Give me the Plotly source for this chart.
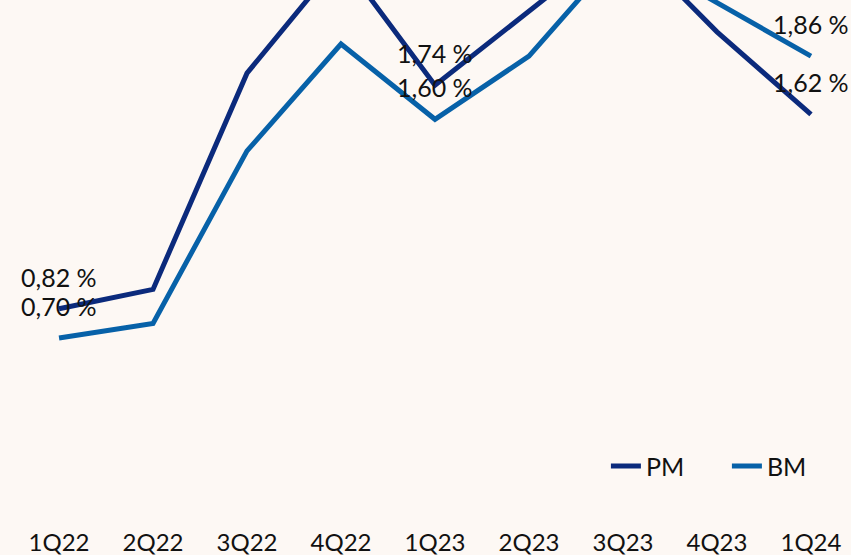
import plotly.graph_objects as go

quarters = ["1Q22", "2Q22", "3Q22", "4Q22", "1Q23", "2Q23", "3Q23", "4Q23", "1Q24"]
pm_values = [0.82, 0.90, 1.79, 2.26, 1.74, 2.05, 2.35, 1.96, 1.62]
bm_values = [0.70, 0.76, 1.47, 1.91, 1.60, 1.86, 2.30, 2.08, 1.86]
labelled = [0, 4, 8]

PM_COLOR = "#0b2a7c"
BM_COLOR = "#0761a8"
BG = "#fdf8f4"
FONT = "Lato, 'Noto Sans', sans-serif"

fig = go.Figure()
fig.add_trace(go.Scatter(x=quarters, y=pm_values, name="PM", mode="lines",
                         line=dict(color=PM_COLOR, width=5)))
fig.add_trace(go.Scatter(x=quarters, y=bm_values, name="BM", mode="lines",
                         line=dict(color=BM_COLOR, width=5)))

annotations = []
for series in (pm_values, bm_values):
    for i in labelled:
        annotations.append(dict(
            x=quarters[i], y=series[i],
            text=f"{series[i]:.2f} %".replace(".", ","),
            showarrow=False, yshift=32,
            font=dict(size=25, color="#111111", family=FONT),
        ))

fig.update_layout(
    width=851, height=555,
    margin=dict(l=0, r=0, t=0, b=45),
    paper_bgcolor=BG, plot_bgcolor=BG,
    font=dict(family=FONT, size=24, color="#111111"),
    showlegend=True,
    legend=dict(orientation="h", x=0.712, xanchor="left", y=0.086, yanchor="middle",
                bgcolor="rgba(0,0,0,0)", font=dict(size=25), entrywidth=76),
    annotations=annotations,
    xaxis=dict(range=[-0.628, 8.426], showgrid=False, zeroline=False, showline=False,
               ticks="", tickfont=dict(size=24), automargin=False, ticklabelstandoff=16),
    yaxis=dict(range=[-0.008, 2.091], showgrid=False, zeroline=False, showline=False,
               showticklabels=False, automargin=False),
)

fig.write_html("out.html", config={"displayModeBar": False},
               post_script="document.body.style.margin='0';")
